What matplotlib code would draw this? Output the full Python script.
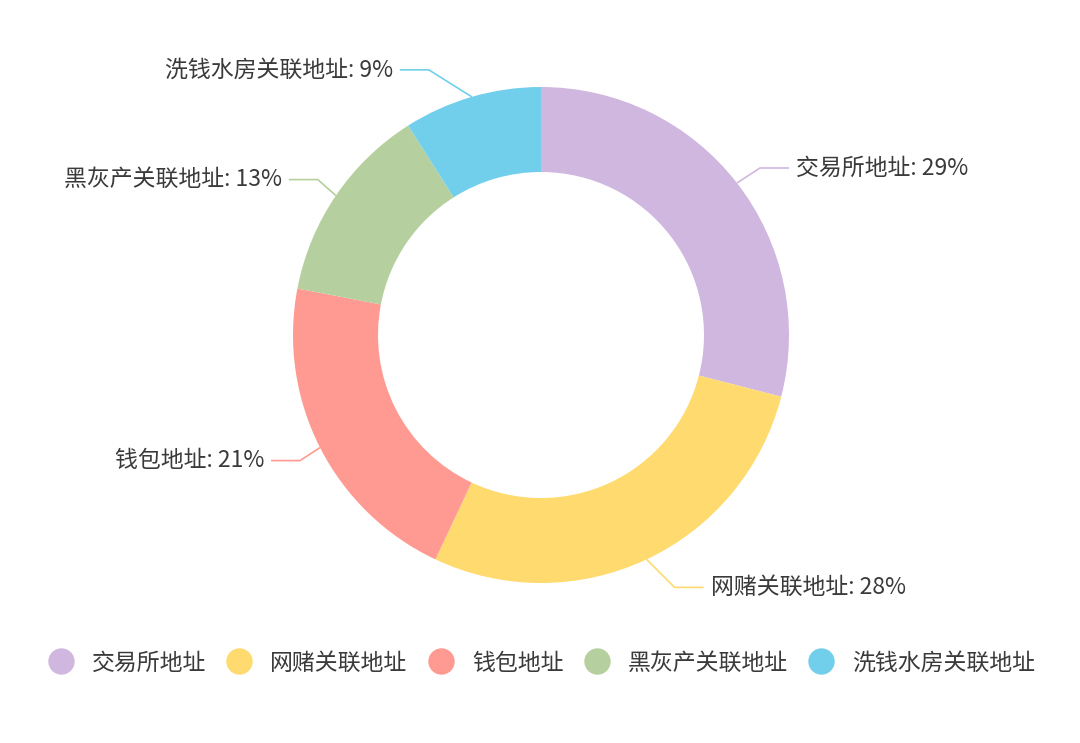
import matplotlib
matplotlib.use('Agg')
import matplotlib.pyplot as plt
import numpy as np
from matplotlib.lines import Line2D

plt.rcParams['font.family'] = ['Noto Sans CJK SC', 'DejaVu Sans']

categories = ['交易所地址', '网赌关联地址', '钱包地址', '黑灰产关联地址', '洗钱水房关联地址']
values = [29, 28, 21, 13, 9]
colors = ['#D0B7DF', '#FFDA6E', '#FF9A93', '#B5D09E', '#72CFEB']

# label-line elbow offsets in screen pixels (dx right, dy down)
elbow_offsets = [(23, -15), (28, 28), (-20, 13), (-18, -16), (-43, -27)]
len2 = 29
text_gap = 7

W, H = 1080, 743
fig = plt.figure(figsize=(10.8, 7.43), dpi=100)
ax = fig.add_axes([0, 0, 1, 1])
cx, cy = 541, H - 335
R = 248
ring = 85

wedges, _ = ax.pie(values, colors=colors, startangle=90, counterclock=False,
                   radius=R, center=(cx, cy), frame=True,
                   wedgeprops=dict(width=ring, linewidth=0))
ax.set_xlim(0, W)
ax.set_ylim(0, H)
ax.set_aspect('equal')
ax.axis('off')

text_color = '#3a3a3a'
fs = 16.5
for w, cat, v, col, (dx, dy) in zip(wedges, categories, values, colors, elbow_offsets):
    ang = np.deg2rad((w.theta1 + w.theta2) / 2.0)
    sx, sy = cx + R * np.cos(ang), cy + R * np.sin(ang)
    ex, ey = sx + dx, sy - dy
    side = 1 if np.cos(ang) >= 0 else -1
    fx = ex + side * len2
    ax.plot([sx, ex, fx], [sy, ey, ey], color=col, lw=1.2, solid_capstyle='butt')
    ax.text(fx + side * text_gap, ey, f'{cat}: {v}%', ha='left' if side > 0 else 'right',
            va='center', fontsize=fs, color=text_color)

handles = [Line2D([], [], marker='o', ls='', markersize=19, markerfacecolor=c,
                  markeredgewidth=0) for c in colors]
fig.legend(handles, categories, loc='center', bbox_to_anchor=(541 / W, 1 - 663 / H),
           ncol=5, frameon=False, fontsize=fs, handlelength=1.2, handletextpad=0.75,
           columnspacing=0.85, labelcolor=text_color)

fig.savefig('out.png', dpi=100, facecolor='white')
